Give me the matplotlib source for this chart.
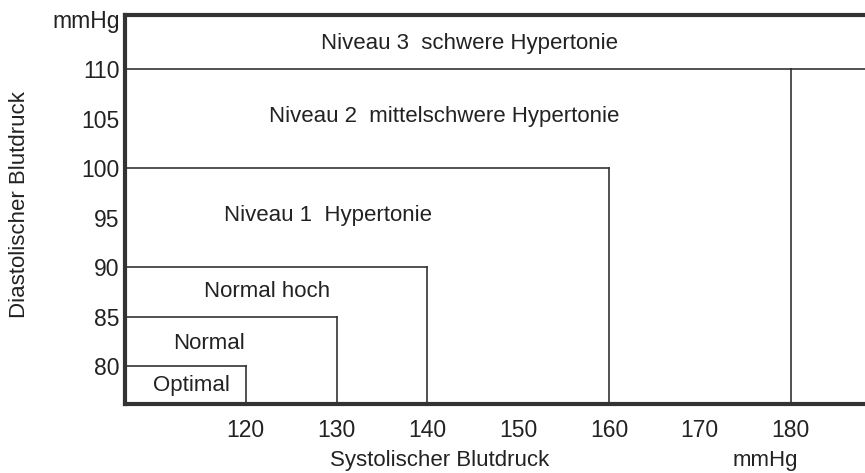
import matplotlib
matplotlib.use("Agg")
import matplotlib.pyplot as plt

plt.rcParams['font.family'] = ['Liberation Sans', 'DejaVu Sans']

# category boundaries (systolic, diastolic)
sys_limits = [120, 130, 140, 160, 180]
dia_limits = [80, 85, 90, 100, 110]
labels = ["Optimal", "Normal", "Normal hoch", "Niveau 1  Hypertonie",
          "Niveau 2  mittelschwere Hypertonie", "Niveau 3  schwere Hypertonie"]
label_x = [114.0, 116.0, 122.4, 129.1, 141.9, 144.6]
label_y = [78.1, 82.3, 87.6, 95.2, 105.2, 112.6]
xticks = [120, 130, 140, 150, 160, 170, 180]
yticks = [80, 85, 90, 95, 100, 105, 110]

col = '#333333'
tcol = '#222222'
fs = 16
fig = plt.figure(figsize=(8.65, 4.73), dpi=100)
ax = fig.add_axes([0.1445, 0.1459, 0.8555, 0.8224])
xmin, xmax = 106.7, 188.2
ymin, ymax = 76.2, 115.5
ax.set_xlim(xmin, xmax)
ax.set_ylim(ymin, ymax)

for i in range(len(sys_limits)):
    s = sys_limits[i]
    d = dia_limits[i]
    ax.plot([xmin, s], [d, d], color=col, lw=1.2)
    ax.plot([s, s], [ymin, d], color=col, lw=1.2)
# 110 line goes across the whole width
ax.plot([sys_limits[-1], xmax], [dia_limits[-1], dia_limits[-1]], color=col, lw=1.2)

for t, x, y in zip(labels, label_x, label_y):
    ax.text(x, y, t, ha='center', va='center', fontsize=fs, color=tcol)

for s in ['left', 'top', 'bottom']:
    ax.spines[s].set_linewidth(3)
    ax.spines[s].set_color(col)
ax.spines['right'].set_visible(False)

ax.set_xticks(xticks)
ax.set_yticks(yticks)
ax.tick_params(length=0, labelsize=16.5, labelcolor=tcol)
ax.tick_params(axis='x', pad=11)
ax.tick_params(axis='y', pad=4)

ax.text(xmin - 0.6, 114.8, "mmHg", ha='right', va='center', fontsize=16.5, color=tcol)
fig.text(440 / 865, 1 - 460 / 473, "Systolischer Blutdruck", ha='center', va='center',
         fontsize=fs, color=tcol)
fig.text(765 / 865, 1 - 460 / 473, "mmHg", ha='center', va='center',
         fontsize=fs, color=tcol)
fig.text(20 / 865, 1 - 205 / 473, "Diastolischer Blutdruck", ha='center', va='center',
         rotation=90, fontsize=fs, color=tcol)

fig.savefig("out.png", dpi=100)
